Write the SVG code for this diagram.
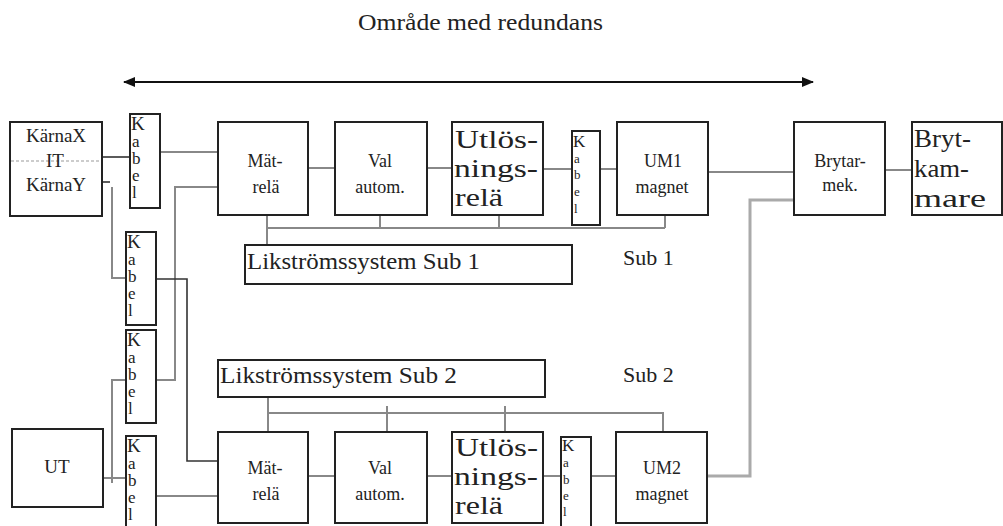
<svg xmlns="http://www.w3.org/2000/svg" width="1003" height="526" viewBox="0 0 1003 526" font-family="'Liberation Serif','DejaVu Serif',serif">
<defs>
<marker id="ah" viewBox="0 0 12 10" refX="11" refY="5" markerWidth="12" markerHeight="10" markerUnits="userSpaceOnUse" orient="auto-start-reverse">
<path d="M0,0 L12,5 L0,10 Z" fill="#111"/>
</marker>
</defs>
<style>
text{font-family:'Liberation Serif','DejaVu Serif',serif;fill:#222}
.box{fill:#fff;stroke:#222;stroke-width:2}
.c{fill:none;stroke:#888;stroke-width:2}
.k{fill:none;stroke:#333;stroke-width:1.6}
.lg{fill:none;stroke:#aaa;stroke-width:3}
.s{font-size:18px;text-anchor:middle}
.b{font-size:26px}
.kb{font-size:17px}
.kk{font-size:19px}
.ks{font-size:13px}
.m{font-size:24px}
</style>
<rect width="1003" height="526" fill="#fff"/>

<text x="358" y="30" font-size="24" textLength="245" lengthAdjust="spacingAndGlyphs">Område med redundans</text>
<line x1="124" y1="82" x2="813" y2="82" stroke="#111" stroke-width="2" marker-start="url(#ah)" marker-end="url(#ah)"/>

<g id="connectors">
<polyline class="k" points="102,157 130,157"/>
<polyline class="k" points="102,182 110,182"/>
<polyline class="c" points="112,187 112,278 126,278"/>
<polyline class="c" points="160,152 218,152"/>
<polyline class="c" points="218,187 175,187 175,380 156,380"/>
<polyline class="k" points="156,279 187,279 187,461 218,461"/>
<polyline class="c" points="126,380 112,380 112,483"/>
<polyline class="c" points="103,478 126,478"/>
<polyline class="c" points="156,496 218,496"/>
<polyline class="c" points="308,168 335,168"/>
<polyline class="c" points="427,168 452,168"/>
<polyline class="c" points="543,169 572,169"/>
<polyline class="c" points="600,169 617,169"/>
<polyline class="c" points="708,172 794,172"/>
<polyline class="c" points="885,170 912,170"/>
<polyline class="c" points="267,228 665,228"/>
<polyline class="c" points="267,215 267,245"/>
<polyline class="c" points="380,215 380,228"/>
<polyline class="c" points="499,215 499,228"/>
<polyline class="c" points="665,215 665,228"/>
<polyline class="c" points="268,413 663,413 663,432"/>
<polyline class="c" points="268,397 268,432"/>
<polyline class="c" points="387,406 387,432"/>
<polyline class="c" points="505,406 505,432"/>
<polyline class="c" points="308,476 335,476"/>
<polyline class="c" points="427,476 452,476"/>
<polyline class="c" points="543,476 561,476"/>
<polyline class="c" points="591,476 616,476"/>
<polyline class="lg" points="794,200 750,200 750,476 707,476"/>
</g>

<g id="karna">
<rect class="box" x="10" y="122" width="92" height="94"/>
<line x1="11" y1="161" x2="101" y2="161" stroke="#999" stroke-width="1.2" stroke-dasharray="3,2"/>
<text x="56" y="142" font-size="19" text-anchor="middle">KärnaX</text>
<text x="55" y="167" font-size="19" text-anchor="middle">IT</text>
<text x="56" y="191" font-size="19" text-anchor="middle">KärnaY</text>
</g>

<g id="kabel1">
<rect class="box" x="130" y="114" width="30" height="94"/>
<text class="kk" x="131" y="130">K</text><text class="kb" x="132" y="147">a</text><text class="kb" x="132" y="164">b</text><text class="kb" x="132" y="181">e</text><text class="kb" x="132" y="198">l</text>
</g>
<g id="kabel2">
<rect class="box" x="126" y="232" width="30" height="93"/>
<text class="kk" x="127" y="248">K</text><text class="kb" x="128" y="265">a</text><text class="kb" x="128" y="282">b</text><text class="kb" x="128" y="299">e</text><text class="kb" x="128" y="316">l</text>
</g>
<g id="kabel3">
<rect class="box" x="126" y="330" width="30" height="93"/>
<text class="kk" x="127" y="346">K</text><text class="kb" x="128" y="363">a</text><text class="kb" x="128" y="380">b</text><text class="kb" x="128" y="397">e</text><text class="kb" x="128" y="414">l</text>
</g>
<g id="kabel4">
<rect class="box" x="126" y="436" width="30" height="100"/>
<text class="kk" x="127" y="452">K</text><text class="kb" x="128" y="469">a</text><text class="kb" x="128" y="486">b</text><text class="kb" x="128" y="503">e</text><text class="kb" x="128" y="520">l</text>
</g>

<g id="ut">
<rect class="box" x="12" y="429" width="91" height="78"/>
<text x="57" y="473" font-size="19" text-anchor="middle">UT</text>
</g>

<g id="matrela1">
<rect class="box" x="218" y="122" width="90" height="93"/>
<text class="s" x="265" y="167">Mät-</text><text class="s" x="266" y="193">relä</text>
</g>
<g id="val1">
<rect class="box" x="335" y="122" width="92" height="93"/>
<text class="s" x="380" y="167">Val</text><text class="s" x="380" y="193">autom.</text>
</g>
<g id="utl1">
<rect class="box" x="452" y="122" width="91" height="93"/>
<text class="b" x="455" y="148" textLength="83" lengthAdjust="spacingAndGlyphs">Utlös-</text>
<text class="b" x="454" y="177" textLength="84" lengthAdjust="spacingAndGlyphs">nings-</text>
<text class="b" x="455" y="206" textLength="48" lengthAdjust="spacingAndGlyphs">relä</text>
</g>
<g id="kabel5">
<rect class="box" x="572" y="131" width="28" height="94"/>
<text x="573" y="147" font-size="17">K</text><text class="ks" x="574" y="163">a</text><text class="ks" x="574" y="179">b</text><text class="ks" x="574" y="196">e</text><text class="ks" x="574" y="213">l</text>
</g>
<g id="um1">
<rect class="box" x="617" y="122" width="91" height="93"/>
<text class="s" x="663" y="167">UM1</text><text class="s" x="662" y="193">magnet</text>
</g>
<g id="brytarmek">
<rect class="box" x="794" y="122" width="91" height="93"/>
<text class="s" x="840" y="167">Brytar-</text><text class="s" x="840" y="191">mek.</text>
</g>
<g id="brytkammare">
<rect class="box" x="912" y="122" width="90" height="93"/>
<text class="b" x="914" y="147" textLength="57" lengthAdjust="spacingAndGlyphs">Bryt-</text>
<text class="b" x="914" y="177" textLength="55" lengthAdjust="spacingAndGlyphs">kam-</text>
<text class="b" x="914" y="207" textLength="72" lengthAdjust="spacingAndGlyphs">mare</text>
</g>

<g id="likstrom1">
<rect class="box" x="245" y="245" width="327" height="39"/>
<text class="m" x="247" y="269" textLength="233" lengthAdjust="spacingAndGlyphs">Likströmssystem Sub 1</text>
</g>
<text id="sub1" x="623" y="265" font-size="22">Sub 1</text>
<g id="likstrom2">
<rect class="box" x="218" y="360" width="327" height="37"/>
<text class="m" x="220" y="383" textLength="237" lengthAdjust="spacingAndGlyphs">Likströmssystem Sub 2</text>
</g>
<text id="sub2" x="623" y="382" font-size="22">Sub 2</text>

<g id="matrela2">
<rect class="box" x="218" y="432" width="90" height="91"/>
<text class="s" x="265" y="474">Mät-</text><text class="s" x="266" y="500">relä</text>
</g>
<g id="val2">
<rect class="box" x="335" y="432" width="92" height="91"/>
<text class="s" x="380" y="474">Val</text><text class="s" x="380" y="500">autom.</text>
</g>
<g id="utl2">
<rect class="box" x="452" y="432" width="91" height="91"/>
<text class="b" x="455" y="456" textLength="83" lengthAdjust="spacingAndGlyphs">Utlös-</text>
<text class="b" x="454" y="485" textLength="84" lengthAdjust="spacingAndGlyphs">nings-</text>
<text class="b" x="455" y="514" textLength="48" lengthAdjust="spacingAndGlyphs">relä</text>
</g>
<g id="kabel6">
<rect class="box" x="561" y="437" width="30" height="100"/>
<text x="562" y="451" font-size="17">K</text><text class="ks" x="563" y="467">a</text><text class="ks" x="563" y="484">b</text><text class="ks" x="563" y="500">e</text><text class="ks" x="563" y="516">l</text>
</g>
<g id="um2">
<rect class="box" x="616" y="432" width="91" height="91"/>
<text class="s" x="662" y="474">UM2</text><text class="s" x="662" y="500">magnet</text>
</g>
</svg>
